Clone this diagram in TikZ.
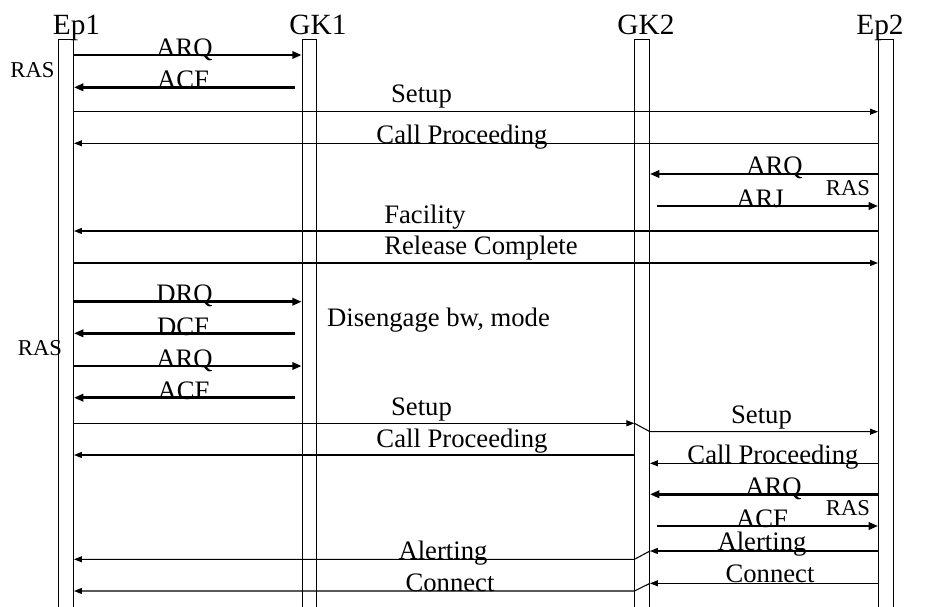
\documentclass[tikz,border=0pt]{standalone}
\usepackage{fontspec}
\setmainfont{Liberation Serif}
\usetikzlibrary{arrows.meta}

\begin{document}
\begin{tikzpicture}[x=0.75pt,y=-0.75pt,
    lifebar/.style={draw,line width=0.75pt,minimum width=10.9pt,minimum height=440pt,inner sep=0pt,anchor=north},
    msg/.style={line width=0.8pt,-{Triangle[length=6pt,width=4.5pt]}},
    ras/.style={line width=2pt,-{Triangle[length=7pt,width=5.5pt]}},
    back/.style={shorten <=5.3pt},
    title/.style={font=\fontsize{22}{22}\selectfont,anchor=base,inner sep=0pt},
    lbl/.style={font=\fontsize{20}{20}\selectfont,anchor=base,inner sep=0pt},
    raslbl/.style={font=\fontsize{17}{17}\selectfont,anchor=base,inner sep=0pt}]
  \useasboundingbox (0,0) rectangle (941,606);

  % lifelines
  \begin{scope}
    \clip (0,0) rectangle (941,606);
    \node[lifebar] (ep1) at (66.2,39.3) {};
    \node[lifebar] (gk1) at (309.4,39.3) {};
    \node[lifebar] (gk2) at (642.2,39.3) {};
    \node[lifebar] (ep2) at (885.8,39.3) {};
  \end{scope}
  \node[title] (t1) at (76.5,35) {Ep1};
  \node[title] (t2) at (318,35) {GK1};
  \node[title] (t3) at (646,35) {GK2};
  \node[title] (t4) at (880,35) {Ep2};

  % RAS exchanges
  \foreach \y/\a/\b in {55/ep1.east/gk1.west, 301.7/ep1.east/gk1.west, 366/ep1.east/gk1.west,
      174/ep2.west/gk2.east, 494.3/ep2.west/gk2.east}
    \draw[ras] (\a |- 0,\y) -- (\b |- 0,\y);
  \foreach \y/\a/\b in {87.3/gk1.west/ep1.east, 333.3/gk1.west/ep1.east, 397.7/gk1.west/ep1.east,
      206/gk2.east/ep2.west, 526/gk2.east/ep2.west}
    \draw[ras,back] (\a |- 0,\y) -- (\b |- 0,\y);

  % call signalling
  \foreach \y/\a/\b in {111.7/ep1.east/ep2.west, 143.3/ep2.west/ep1.east, 231/ep2.west/ep1.east,
      263/ep1.east/ep2.west, 423.3/ep1.east/gk2.west, 455/gk2.west/ep1.east,
      463.3/ep2.west/gk2.east, 551/ep2.west/gk2.east, 583.3/ep2.west/gk2.east}
    \draw[msg] (\a |- 0,\y) -- (\b |- 0,\y);
  \draw[msg] (gk2.west |- 0,423.3) -- (gk2.east |- 0,431.7) -- (ep2.west |- 0,431.7);
  \draw[msg] (gk2.east |- 0,551) -- (gk2.west |- 0,559.3) -- (ep1.east |- 0,559.3);
  \draw[msg] (gk2.east |- 0,583.3) -- (gk2.west |- 0,591) -- (ep1.east |- 0,591);

  % labels
  \foreach \x/\y/\t [count=\i] in {184.5/57/ARQ, 183/89/ACF, 421.5/103/Setup, 462/143/Call Proceeding,
      774.5/175/ARQ, 760/207/ARJ, 425/223/Facility, 481/254/Release Complete,
      184.5/302/DRQ, 183/335/DCF, 184.5/367/ARQ, 183.5/399/ACF,
      421.5/415/Setup, 462/447/Call Proceeding, 761.5/423/Setup, 773/463/Call Proceeding,
      773.5/495/ARQ, 762/527/ACF, 443/559/Alerting, 450/591/Connect,
      762/550/Alerting, 770/582/Connect}
    \node[lbl] (m\i) at (\x,\y) {\t};
  \node[lbl] (dis) at (438.5,326) {Disengage bw, mode};

  \node[raslbl] (r1) at (32.5,78) {RAS};
  \node[raslbl] (r2) at (40,355) {RAS};
  \node[raslbl] (r3) at (848,195) {RAS};
  \node[raslbl] (r4) at (848,515) {RAS};
\end{tikzpicture}
\end{document}
